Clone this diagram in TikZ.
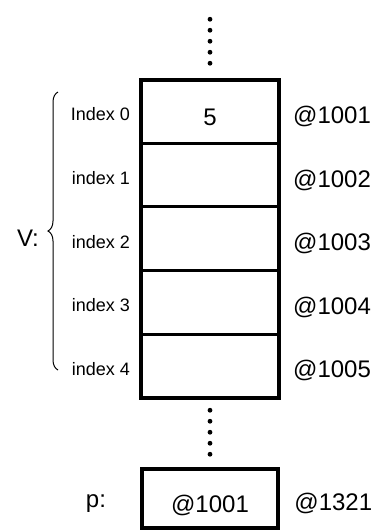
\documentclass[tikz,border=0pt]{standalone}
\usepackage{fontspec}
\setmainfont{Liberation Sans}
\usetikzlibrary{positioning,decorations.pathreplacing,calc}

\begin{document}
\begin{tikzpicture}[x=0.5pt,y=-0.5pt]
  \tikzstyle{cell} = [draw, line width=0.75pt, minimum width=68pt, minimum height=31.05pt, inner sep=0pt, text height=13.6pt, text depth=0pt, font={\fontsize{12}{14}\selectfont}]
  \tikzstyle{frame} = [line width=2pt];
  \tikzstyle{idx} = [inner sep=0pt, node distance=5.5pt, yshift=-1.5pt, font={\fontsize{9}{11}\selectfont}];
  \tikzstyle{addr} = [inner sep=0pt, node distance=7pt, yshift=-2.5pt, font={\fontsize{12}{14}\selectfont}];
  \tikzstyle{dotline} = [line width=2.4pt, line cap=round, dash pattern=on 0pt off 5.5pt];

  \useasboundingbox (0,0) rectangle (378,531);

  % the array V
  \node[cell](c0) at (210,111.55) {5};
  \node[cell](c1) [below=0pt of c0] {};
  \node[cell](c2) [below=0pt of c1] {};
  \node[cell](c3) [below=0pt of c2] {};
  \node[cell](c4) [below=0pt of c3] {};
  \draw[frame] (c0.north west) rectangle (c4.south east);

  \node[idx](i0) [left=of c0] {Index 0};
  \node[idx](i1) [left=of c1] {index 1};
  \node[idx](i2) [left=of c2] {index 2};
  \node[idx](i3) [left=of c3] {index 3};
  \node[idx](i4) [left=of c4] {index 4};

  \node[addr](a0) [right=of c0] {@1001};
  \node[addr](a1) [right=of c1] {@1002};
  \node[addr](a2) [right=of c2] {@1003};
  \node[addr](a3) [right=of c3] {@1004};
  \node[addr](a4) [right=of c4] {@1005};

  \coordinate (vtop) at (58,92);
  \coordinate (vbot) at (58,370);
  \draw[line width=0.5pt, decorate, decoration={brace, amplitude=5pt}] (vbot) -- (vtop);
  \node[addr](v) at (28,233) {V:};

  % the pointer p
  \node[cell, frame, minimum height=29.5pt](p) at (210,498.5) {@1001};
  \node[addr](pa) [right=of p] {@1321};
  \node[addr](pn) at (96,498.5) {p:};

  \coordinate (dtop) at (210,8.9);
  \draw[dotline] ($(c0.north)+(0,-16.5)$) -- (dtop);
  \draw[dotline] ($(c4.south)+(0,12.5)$) -- ($(p.north)+(0,-10.4)$);
\end{tikzpicture}
\end{document}
